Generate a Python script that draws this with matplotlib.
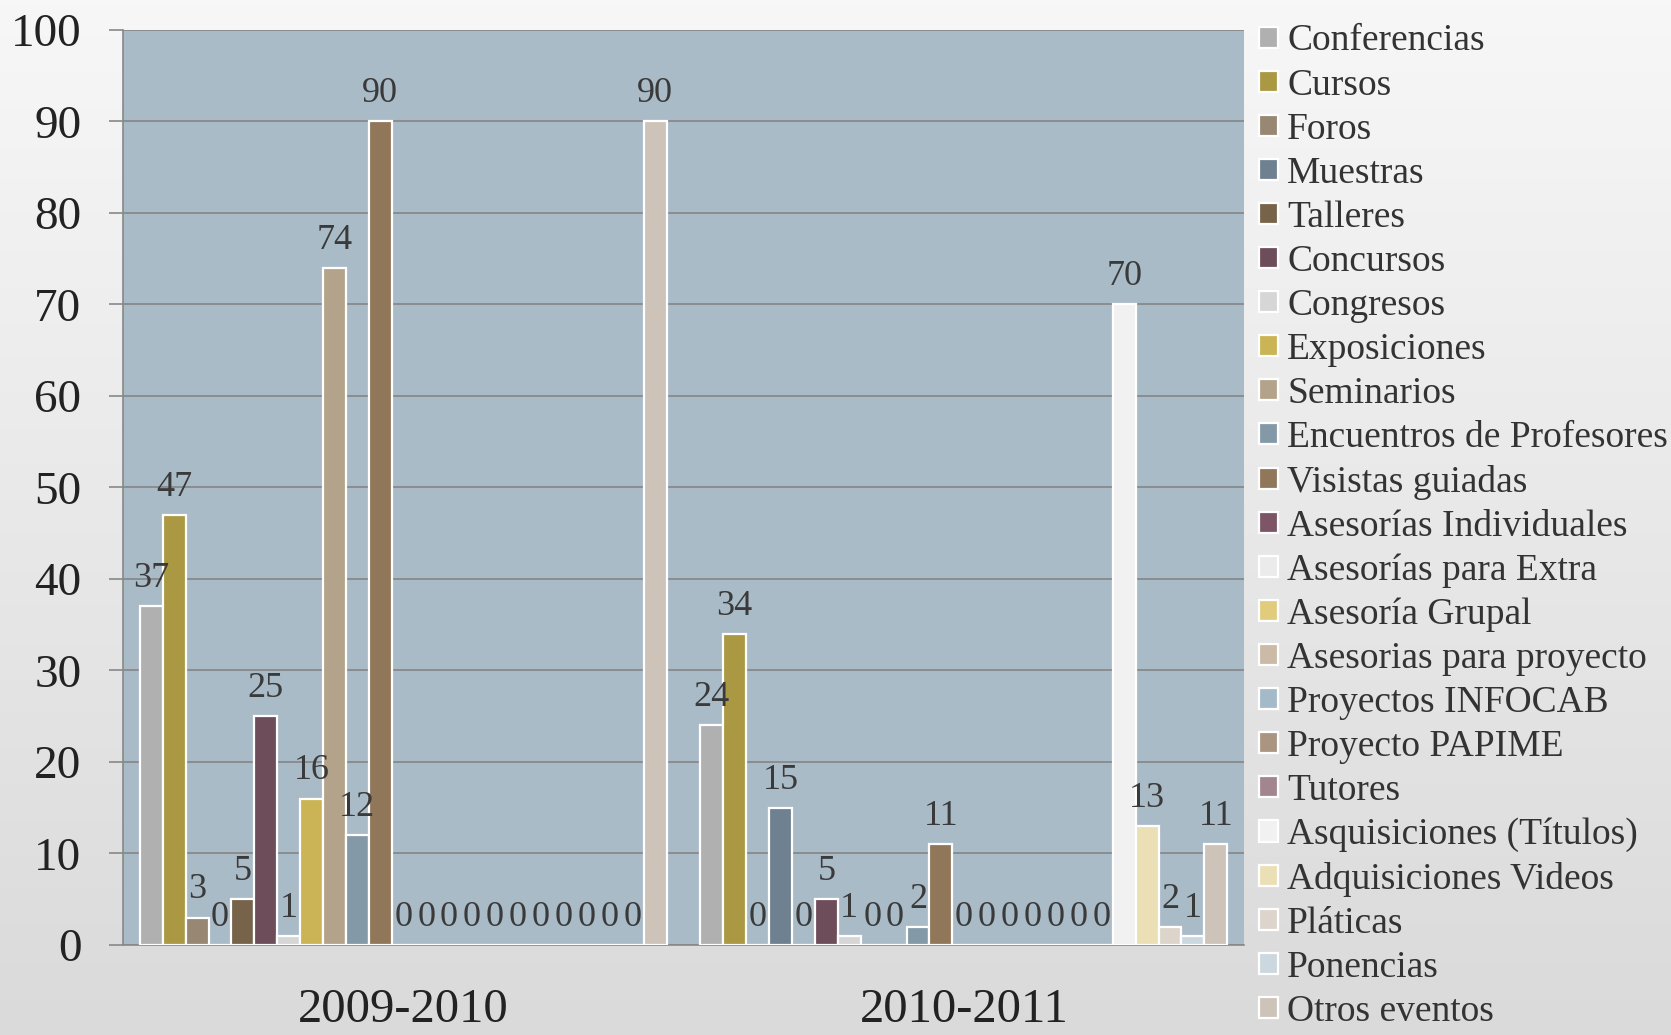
import numpy as np
import matplotlib
matplotlib.use("Agg")
import matplotlib.pyplot as plt

# data
periods = ["2009-2010", "2010-2011"]
series = [
    "Conferencias", "Cursos", "Foros", "Muestras", "Talleres", "Concursos",
    "Congresos", "Exposiciones", "Seminarios", "Encuentros de Profesores",
    "Visistas guiadas", "Asesorías Individuales", "Asesorías para Extra",
    "Asesoría Grupal", "Asesorias para proyecto", "Proyectos INFOCAB",
    "Proyecto PAPIME", "Tutores", "Asquisiciones (Títulos)",
    "Adquisiciones Videos", "Pláticas", "Ponencias", "Otros eventos",
]
values_0910 = [37, 47, 3, 0, 5, 25, 1, 16, 74, 12, 90,
               0, 0, 0, 0, 0, 0, 0, 0, 0, 0, 0, 90]
values_1011 = [24, 34, 0, 15, 0, 5, 1, 0, 0, 2, 11,
               0, 0, 0, 0, 0, 0, 0, 70, 13, 2, 1, 11]
colors = [
    "#b0b0b0", "#aa9843", "#978773", "#6f8190", "#77634a", "#6e4d5a",
    "#d6d6d6", "#cbb455", "#b3a38a", "#8499a8", "#90775a", "#7d5566",
    "#ebebeb", "#e1cc7c", "#cbbaa6", "#a5bac8", "#aa9680", "#a38590",
    "#f1f1f1", "#ebdfb5", "#ddd5cb", "#cbd8df", "#cdc3b9",
]

plt.rcParams["font.family"] = ["Liberation Serif", "DejaVu Serif"]

fig = plt.figure(figsize=(16.71, 10.35), dpi=100)

# light grey gradient background
bg = fig.add_axes([0, 0, 1, 1], zorder=-10)
grad = np.linspace(0, 1, 256).reshape(-1, 1)
bg.imshow(grad, aspect="auto", cmap=matplotlib.colors.LinearSegmentedColormap.from_list(
    "bg", ["#f7f7f7", "#dadada"]), extent=[0, 1, 0, 1], origin="upper")
bg.axis("off")

ax = fig.add_axes([0.0736, 0.0870, 0.6709, 0.8841])
ax.set_facecolor("#aabbc8")

x = np.arange(len(periods))
n = len(series)
w = 0.94 / n
for i, name in enumerate(series):
    vals = [values_0910[i], values_1011[i]]
    bars = ax.bar(x + (i - (n - 1) / 2) * w, vals, w, color=colors[i],
                  edgecolor="white", linewidth=1.6, label=name, zorder=3)
    ax.bar_label(bars, padding=8, fontsize=26, color="#3a3a3a", zorder=4)

ax.set_xlim(-0.5, 1.5)
ax.set_ylim(0, 100)
ax.set_yticks(range(0, 101, 10))
ax.set_xticks(x)
ax.set_xticklabels(periods, fontsize=35, color="#222222")
ax.tick_params(axis="x", length=0, pad=31)
ax.tick_params(axis="y", labelsize=34, labelcolor="#222222", length=10,
               width=1.2, color="#888888", pad=20)
ax.yaxis.grid(True, color="#858585", linewidth=1.2, zorder=0)
ax.set_axisbelow(True)
for s in ["top", "right"]:
    ax.spines[s].set_visible(False)
for s in ["left", "bottom"]:
    ax.spines[s].set_color("#888888")
    ax.spines[s].set_linewidth(1.2)

fig.legend(loc="upper left", bbox_to_anchor=(1259 / 1671, 1 - 24 / 1035),
           frameon=False, fontsize=27, handlelength=0.5, handleheight=0.5,
           handletextpad=0.25, labelspacing=0.255, borderpad=0, borderaxespad=0,
           labelcolor="#333333")

fig.savefig("out.png", dpi=100)
